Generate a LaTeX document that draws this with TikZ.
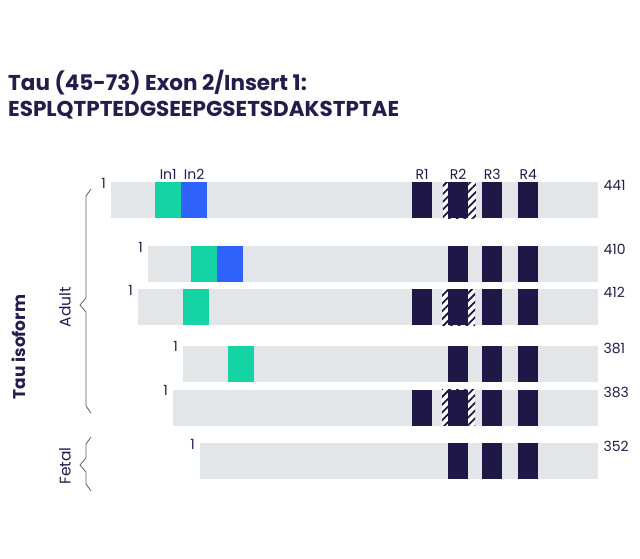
\documentclass[tikz,border=0pt]{standalone}
\usepackage{fontspec}
\setmainfont{Poppins}
\usetikzlibrary{positioning,patterns.meta}
\definecolor{barcol}{HTML}{E3E6E9}
\definecolor{inacol}{HTML}{14D3A4}
\definecolor{inbcol}{HTML}{2F62FB}
\definecolor{repcol}{HTML}{1F1745}
\definecolor{txtcol}{HTML}{231D4B}
\definecolor{bracecol}{HTML}{5B5878}

\begin{document}
\begin{tikzpicture}[x=1pt,y=-1pt,
  every node/.style={text=txtcol},
  bar/.style={fill=barcol, minimum height=36pt, inner sep=0pt, anchor=west},
  insa/.style={fill=inacol, minimum width=26pt, minimum height=36pt, inner sep=0pt, anchor=west},
  insb/.style={fill=inbcol, minimum width=26pt, minimum height=36pt, inner sep=0pt, anchor=west},
  rep/.style={fill=repcol, minimum width=20pt, minimum height=36pt, inner sep=0pt, anchor=west},
  hatch/.style={preaction={fill=white}, pattern={Lines[angle=45,distance=5.5pt,line width=1.8pt]},
    pattern color=repcol, minimum width=33pt, minimum height=36pt, inner sep=0pt, anchor=west},
  lbl/.style={font=\fontsize{14}{16}\selectfont, inner sep=0pt},
  brace/.style={draw=bracecol, line width=0.8pt, line join=round}]
  \useasboundingbox (0,0) rectangle (640,559);

  % title
  \node[anchor=base west, inner sep=0pt, font=\bfseries\fontsize{21.5}{26}\selectfont] (title1) at (8,91) {Tau (45-73) Exon 2/Insert 1:};
  \node[anchor=base west, inner sep=0pt, font=\bfseries\fontsize{21.5}{26}\selectfont] (title2) at (8,117) {ESPLQTPTEDGSEEPGSETSDAKSTPTAE};

  % isoform bars
  \node[bar, minimum width=487pt] (b441) at (111,200) {};
  \node[bar, minimum width=450pt] (b410) at (148,264) {};
  \node[bar, minimum width=460pt] (b412) at (138,307) {};
  \node[bar, minimum width=415pt] (b381) at (183,363.5) {};
  \node[bar, minimum width=425pt] (b383) at (173,407.5) {};
  \node[bar, minimum width=398pt] (b352) at (200,461) {};

  % inserts
  \node[insa] (ia441) at (155,200) {};
  \node[insb] (ib441) at (181,200) {};
  \node[insa] (ia410) at (191,264) {};
  \node[insb] (ib410) at (217,264) {};
  \node[insa] (ia412) at (183,307) {};
  \node[insa] (ia381) at (228,363.5) {};

  % repeats
  \foreach \n/\y in {441/200,412/307,383/407.5}{
    \node[rep] (ra\n) at (412,\y) {};
    \node[hatch] (h\n) at (442,\y) {};
  }
  \foreach \n/\y in {441/200,410/264,412/307,381/363.5,383/407.5,352/461}{
    \node[rep] (rb\n) at (448,\y) {};
    \node[rep] (rc\n) at (482,\y) {};
    \node[rep] (rd\n) at (518,\y) {};
  }

  % domain labels
  \node[lbl, above=2pt of ia441] (lin1) {In1};
  \node[lbl, above=2pt of ib441] (lin2) {In2};
  \node[lbl, above=2pt of ra441] (lr1) {R1};
  \node[lbl, above=2pt of rb441] (lr2) {R2};
  \node[lbl, above=2pt of rc441] (lr3) {R3};
  \node[lbl, above=2pt of rd441] (lr4) {R4};

  % start and length
  \foreach \n in {441,410,412,381,383,352}{
    \node[lbl, anchor=north east] (s\n) at ([xshift=-5pt,yshift=4pt]b\n.north west) {1};
    \node[lbl, anchor=north west] (e\n) at ([xshift=5pt,yshift=2pt]b\n.north east) {\n};
  }

  % braces
  \draw[brace] (91,189) -- (86,196) -- (86,298) -- (80,305) -- (86,312) -- (86,406) -- (91,413);
  \draw[brace] (91,437) -- (86,444) -- (86,458) -- (80,465) -- (86,472) -- (86,484) -- (91,491);
  \node[lbl, rotate=90, font=\fontsize{15.5}{18}\selectfont] (adult) at (65,307) {Adult};
  \node[lbl, rotate=90, font=\fontsize{15.5}{18}\selectfont] (fetal) at (65,466) {Fetal};
  \node[inner sep=0pt, rotate=90, font=\bfseries\fontsize{17}{20}\selectfont] (iso) at (19,347) {Tau isoform};
\end{tikzpicture}
\end{document}
